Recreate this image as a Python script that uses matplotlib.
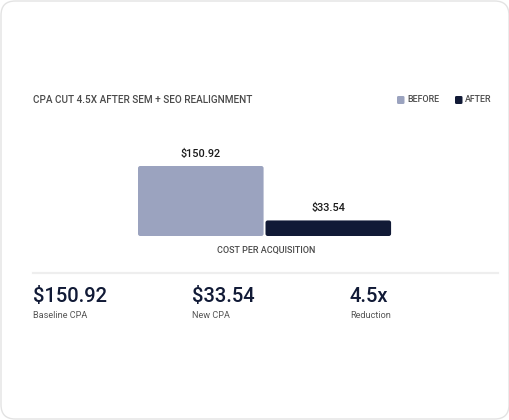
import matplotlib
matplotlib.use('Agg')
import matplotlib.pyplot as plt
from matplotlib.patches import FancyBboxPatch

plt.rcParams['font.family'] = ['Liberation Sans Narrow', 'Roboto', 'DejaVu Sans']

# data
series = ['BEFORE', 'AFTER']
cpa = [150.92, 33.54]
bar_colors = ['#9ba3bf', '#111a36']
stat_labels = ['Baseline CPA', 'New CPA', 'Reduction']

W, H = 510, 420
fig = plt.figure(figsize=(W / 100, H / 100), dpi=100)
fig.patch.set_facecolor('white')

def fx(px):
  return px / W

def fy(py):
  return 1 - py / H

# card outline
card = FancyBboxPatch((fx(1), fy(419)), fx(508), 418 / H,
                      boxstyle='round,pad=0,rounding_size=0.028',
                      transform=fig.transFigure, facecolor='white',
                      edgecolor='#e3e3e3', linewidth=1.0, mutation_aspect=W / H,
                      zorder=-5)
fig.patches.append(card)

# title + legend
fig.text(fx(33), fy(100), 'CPA CUT 4.5X AFTER SEM + SEO REALIGNMENT',
         fontsize=7.2, color='#4a4a4a', va='center', ha='left', weight='medium')
leg_x = [397, 455]
for name, col, x in zip(series, bar_colors, leg_x):
  fig.patches.append(FancyBboxPatch((fx(x), fy(104)), fx(7.5), 8 / H,
                                    boxstyle='round,pad=0,rounding_size=0.003',
                                    transform=fig.transFigure, facecolor=col,
                                    edgecolor='none'))
  fig.text(fx(x + 10), fy(100), name, fontsize=6.4, color='#4a4a4a',
           va='center', ha='left', weight='medium')

# bars
ax = fig.add_axes([fx(138), fy(236), fx(255), (236 - 166) / H])
bars = ax.bar(range(len(cpa)), cpa, width=0.985, align='edge', color=bar_colors)
ax.set_xlim(0, 2)
ax.set_ylim(0, cpa[0])
ax.axis('off')
# swap the square bars for slightly rounded ones
px_x = 127.5
px_y = 70.0 / cpa[0]
for r in bars:
  r.set_visible(False)
  ax.add_patch(FancyBboxPatch((r.get_x(), r.get_y()), r.get_width(), r.get_height(),
                              boxstyle='round,pad=0,rounding_size={}'.format(2.2 / px_x),
                              mutation_aspect=px_x / px_y,
                              facecolor=r.get_facecolor(), edgecolor='none'))
for i, v in enumerate(cpa):
  ax.annotate('${:.2f}'.format(v), (i + 0.985 / 2, v), xytext=(0, 5),
              textcoords='offset points', ha='center', va='bottom',
              fontsize=7.8, color='#1a1a1a', weight='medium',
              annotation_clip=False)

fig.text(fx(266), fy(250), 'COST PER ACQUISITION', fontsize=6.5,
         color='#4a4a4a', ha='center', va='center', weight='medium')

# divider
fig.add_artist(plt.Line2D([fx(33), fx(498)], [fy(273), fy(273)],
                          color='#eeeeee', linewidth=1.6))

# stats
stat_values = ['${:.2f}'.format(cpa[0]), '${:.2f}'.format(cpa[1]),
               '{:.1f}x'.format(cpa[0] / cpa[1])]
stat_x = [33, 192, 350]
for x, val, lab in zip(stat_x, stat_values, stat_labels):
  fig.text(fx(x), fy(296), val, fontsize=14.5, color='#111a36',
           ha='left', va='center', weight='medium')
  fig.text(fx(x), fy(316), lab, fontsize=6.6, color='#555555',
           ha='left', va='center')

fig.savefig('out.png', dpi=100, facecolor='white')
